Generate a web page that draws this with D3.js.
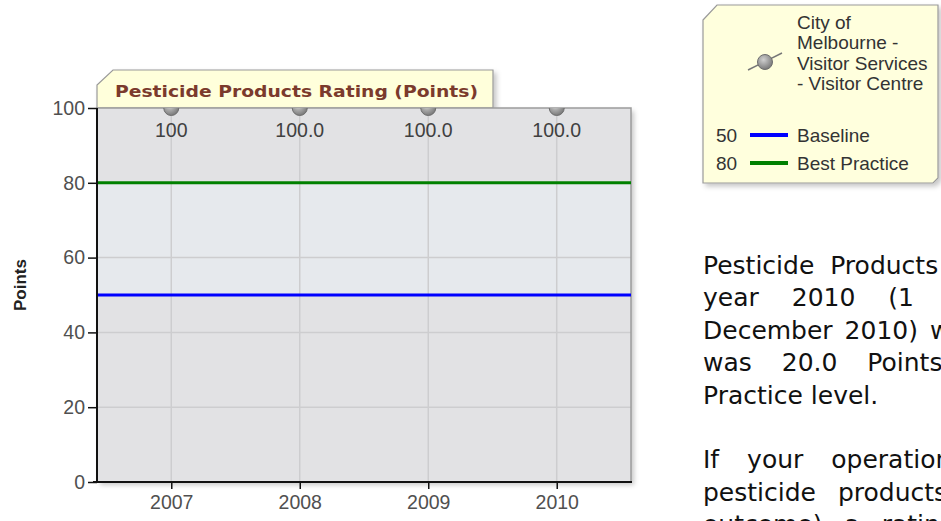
<!DOCTYPE html>
<html>
<head>
<meta charset="utf-8">
<script src="https://cdn.jsdelivr.net/npm/d3@7"></script>
<style>
  html, body { margin: 0; padding: 0; background: #fff; overflow: hidden; width: 941px; height: 521px; }
  #chart { position: absolute; left: 0; top: 0; }
  #notes { position: absolute; left: 703px; top: 250px; font-family: "DejaVu Sans", Verdana, sans-serif; font-size: 25px; line-height: 32.4px; color: #111; white-space: nowrap; }
  #notes div { height: 32.4px; }
</style>
</head>
<body>
<svg id="chart" width="941" height="521"></svg>
<div id="notes"></div>
<script>
const years = ["2007", "2008", "2009", "2010"];
const ratings = [100, 100, 100, 100];
const ratingLabels = ["100", "100.0", "100.0", "100.0"];
const yTicks = [0, 20, 40, 60, 80, 100];
const seriesName = ["City of", "Melbourne -", "Visitor Services", "- Visitor Centre"];
const thresholdNames = ["Baseline", "Best Practice"];
const thresholdValues = [50, 80];
const noteLines = [
  "Pesticide Products Rating for the",
  "year 2010 (1 January 2010 - 31",
  "December 2010) was 100.0 Points",
  "was 20.0 Points above the Best",
  "Practice level.",
  "",
  "If your operation uses no",
  "pesticide products (the best",
  "outcome) a rating of 100 Points"
];
const noteSpacing = [8, 25, 4, 22, 0, 0, 20, 14, 14];

const thresholdColors = ["#0000ff", "#008000"];
const title = "Pesticide Products Rating (Points)";
const sans = "Liberation Sans, Arial, sans-serif";

let svg = d3.select("#chart");
const margin = {left: 97, right: 310, top: 108, bottom: 39};
const W = 941, H = 521;

let x = d3.scalePoint().domain(years).range([margin.left, W - margin.right]).padding(0.578);
let y = d3.scaleLinear().domain([0, 100]).range([H - margin.bottom, margin.top]);

let defs = svg.append("defs");
let sh = defs.append("filter").attr("id", "shadow").attr("x", "-10%").attr("y", "-10%").attr("width", "130%").attr("height", "130%");
sh.append("feDropShadow").attr("dx", 3).attr("dy", 3).attr("stdDeviation", 2.5)
  .attr("flood-color", "#000").attr("flood-opacity", 0.22);
let grad = defs.append("radialGradient").attr("id", "ball").attr("cx", "40%").attr("cy", "35%").attr("r", "65%");
grad.append("stop").attr("offset", "0%").attr("stop-color", "#d0d0d0");
grad.append("stop").attr("offset", "100%").attr("stop-color", "#7a7a7a");
defs.append("clipPath").attr("id", "plotclip").append("rect")
  .attr("x", margin.left).attr("y", margin.top)
  .attr("width", W - margin.right - margin.left).attr("height", y(0) - margin.top);

const x0 = margin.left, x1 = W - margin.right;

// title tab
svg.append("path")
  .attr("d", `M${x0},${margin.top} L${x0},85 L113,70 L493,70 L493,${margin.top} Z`)
  .attr("fill", "#ffffdb").attr("stroke", "#9a9a9a").attr("stroke-width", 1.2)
  .attr("filter", "url(#shadow)");
svg.append("text")
  .attr("x", 115).attr("y", 97)
  .attr("font-family", "DejaVu Sans, Verdana, sans-serif").attr("font-weight", "bold")
  .attr("font-size", 16).attr("fill", "#7b3a2c")
  .attr("textLength", 363).attr("lengthAdjust", "spacingAndGlyphs")
  .text(title);

// plot background
svg.append("rect")
  .attr("x", x0).attr("y", margin.top).attr("width", x1 - x0).attr("height", y(0) - margin.top)
  .attr("fill", "#e2e2e4").attr("filter", "url(#shadow)");
svg.append("rect")
  .attr("x", x0).attr("y", y(thresholdValues[1])).attr("width", x1 - x0)
  .attr("height", y(thresholdValues[0]) - y(thresholdValues[1]))
  .attr("fill", "#e6e9ed");

// grid
svg.append("g").selectAll("line").data(yTicks.filter(d => d > 0 && d < 100)).join("line")
  .attr("x1", x0).attr("x2", x1).attr("y1", d => y(d)).attr("y2", d => y(d))
  .attr("stroke", "#cdcdcf").attr("stroke-width", 1.5);
svg.append("g").selectAll("line").data(years).join("line")
  .attr("x1", d => x(d)).attr("x2", d => x(d)).attr("y1", margin.top).attr("y2", y(0))
  .attr("stroke", "#cdcdcf").attr("stroke-width", 1.5);

// top/right border
svg.append("path")
  .attr("d", `M${x0},${margin.top} L${x1},${margin.top} L${x1},${y(0)}`)
  .attr("fill", "none").attr("stroke", "#9c9c9c").attr("stroke-width", 1.5);

// threshold lines
svg.append("g").selectAll("line").data(thresholdValues).join("line")
  .attr("x1", x0).attr("x2", x1).attr("y1", d => y(d)).attr("y2", d => y(d))
  .attr("stroke", (d, i) => thresholdColors[i]).attr("stroke-width", 3);

// points (clipped at the top of the plot)
svg.append("g").attr("clip-path", "url(#plotclip)")
  .selectAll("circle").data(ratings).join("circle")
  .attr("cx", (d, i) => x(years[i])).attr("cy", d => y(d)).attr("r", 7.5)
  .attr("fill", "url(#ball)").attr("stroke", "#6e6e6e").attr("stroke-width", 1);
svg.append("g").selectAll("text").data(ratings).join("text")
  .attr("x", (d, i) => x(years[i])).attr("y", d => y(d) + 29)
  .attr("text-anchor", "middle")
  .attr("font-family", sans).attr("font-size", 19.5)
  .attr("fill", "#404040")
  .text((d, i) => ratingLabels[i]);

// axes
let yAxis = svg.append("g").attr("transform", `translate(${x0},0)`)
  .call(d3.axisLeft(y).tickValues(yTicks).tickSize(9).tickPadding(3));
let xAxis = svg.append("g").attr("transform", `translate(0,${y(0)})`)
  .call(d3.axisBottom(x).tickSize(7).tickPadding(6));
[yAxis, xAxis].forEach(a => {
  a.select(".domain").remove();
  a.selectAll(".tick line").attr("stroke", "#111").attr("stroke-width", 1.5);
  a.selectAll(".tick text")
    .attr("font-family", sans).attr("font-size", 19.5)
    .attr("fill", "#505050");
});
svg.append("line").attr("x1", x0).attr("x2", x0).attr("y1", margin.top).attr("y2", y(0) + 1)
  .attr("stroke", "#111").attr("stroke-width", 2);
svg.append("line").attr("x1", x0 - 4).attr("x2", x1 + 1).attr("y1", y(0)).attr("y2", y(0))
  .attr("stroke", "#111").attr("stroke-width", 2);

svg.append("text")
  .attr("transform", `translate(26,285) rotate(-90)`)
  .attr("text-anchor", "middle")
  .attr("font-family", sans).attr("font-weight", "bold")
  .attr("font-size", 17).attr("fill", "#222")
  .text("Points");

// legend
let lg = svg.append("g");
lg.append("path")
  .attr("d", "M703,20 L717,5 L938,5 L938,178 L933,183 L703,183 Z")
  .attr("fill", "#ffffdd").attr("stroke", "#9a9a9a").attr("stroke-width", 1.2)
  .attr("filter", "url(#shadow)");
lg.append("line").attr("x1", 748).attr("y1", 70).attr("x2", 782).attr("y2", 53)
  .attr("stroke", "#777").attr("stroke-width", 1.5);
lg.append("circle").attr("cx", 765).attr("cy", 62).attr("r", 7.5)
  .attr("fill", "url(#ball)").attr("stroke", "#6e6e6e");
lg.append("g").selectAll("text").data(seriesName).join("text")
  .attr("x", 797).attr("y", (d, i) => 29 + i * 20.3)
  .attr("font-family", sans).attr("font-size", 19)
  .attr("fill", "#333").text(d => d);
let rows = lg.append("g").selectAll("g").data(thresholdNames).join("g")
  .attr("transform", (d, i) => `translate(0,${135 + i * 28})`);
rows.append("text").attr("x", 716).attr("y", 7)
  .attr("font-family", sans).attr("font-size", 19)
  .attr("fill", "#333").text((d, i) => thresholdValues[i]);
rows.append("line").attr("x1", 750).attr("x2", 788).attr("y1", 0).attr("y2", 0)
  .attr("stroke", (d, i) => thresholdColors[i]).attr("stroke-width", 4);
rows.append("text").attr("x", 797).attr("y", 7)
  .attr("font-family", sans).attr("font-size", 19)
  .attr("fill", "#333").text(d => d);

// notes text
d3.select("#notes").selectAll("div").data(noteLines).join("div")
  .style("word-spacing", (d, i) => noteSpacing[i] + "px")
  .text(d => d || "\u00a0");
</script>
</body>
</html>
